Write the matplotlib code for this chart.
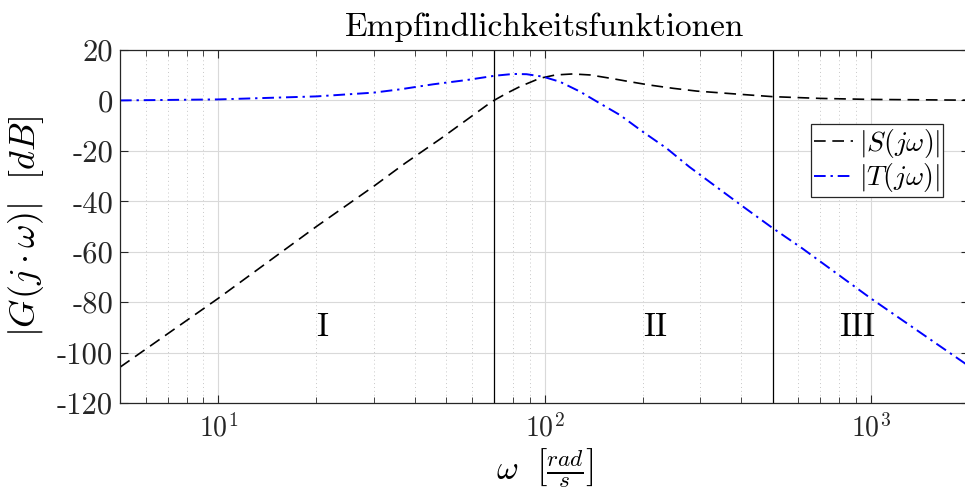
import matplotlib
matplotlib.use("Agg")
import matplotlib.pyplot as plt
from matplotlib.ticker import LogLocator, NullFormatter

plt.rcParams['font.family'] = ['cmr10', 'DejaVu Serif']
plt.rcParams['mathtext.fontset'] = 'cm'
plt.rcParams['axes.unicode_minus'] = False

# values
omega_s = [5, 10, 20, 30, 37.4, 47.9, 60.5, 68.9, 76.5, 84.1, 96.9, 108, 122, 138, 159, 183, 210, 248, 293, 400, 500, 700, 1000, 2000]
s_db = [-105.8, -78.5, -50.0, -34.0, -24.9, -15.3, -5.8, -0.5, 2.8, 5.5, 8.8, 10.1, 10.5, 10.1, 8.8, 7.4, 6.1, 4.8, 3.7, 2.4, 1.5, 0.8, 0.4, 0.1]

omega_t = [5, 10, 20, 30, 36.1, 45.6, 57.8, 70.5, 80.2, 88.1, 99.1, 111.5, 128.5, 148, 170.4, 200, 236.8, 277.6, 400, 500, 617, 1000, 2000]
t_db = [0.0, 0.4, 1.6, 3.1, 4.4, 6.4, 8.1, 9.8, 10.5, 10.4, 9.4, 7.4, 3.5, -1.2, -5.8, -12.4, -19.0, -26.3, -41.5, -50.6, -58.7, -78.5, -105.4]

bounds = [70, 500]
regions = ['I', 'II', 'III']
region_x = [20, 200, 800]
region_y = -90

yticks = [-120, -100, -80, -60, -40, -20, 0, 20]
ytick_labels = ['-120', '-100', '-80', '-60', '-40', '-20', '0', '20']

fig = plt.figure(figsize=(9.65, 4.93), dpi=100)
ax = fig.add_axes([120 / 965, 90 / 493, 849 / 965, 353 / 493])

ax.plot(omega_s, s_db, color='black', linestyle=(0, (7, 4)), linewidth=1.2, label=r'$|S(j\omega)|$')
ax.plot(omega_t, t_db, color='#0000ff', linestyle=(0, (6, 2.5, 1.2, 2.5)), linewidth=1.4, label=r'$|T(j\omega)|$')

for b in bounds:
    ax.axvline(b, color='black', linewidth=0.9)

for txt, xx in zip(regions, region_x):
    ax.text(xx, region_y, txt, fontsize=24, ha='left', va='center')

ax.set_xscale('log')
ax.set_xlim(5, 2000)
ax.set_ylim(-120, 20)
ax.set_yticks(yticks, labels=ytick_labels)
ax.xaxis.set_minor_locator(LogLocator(base=10, subs=range(2, 10), numticks=20))
ax.xaxis.set_minor_formatter(NullFormatter())

ax.grid(True, which='major', color='#d9d9d9', linewidth=0.8)
ax.grid(True, which='minor', axis='x', color='#c8c8c8', linewidth=0.7, linestyle=(0, (1, 3)))
ax.set_axisbelow(True)

ax.tick_params(which='both', direction='in', top=True, right=True, colors='#262626')
ax.tick_params(axis='y', labelsize=22, pad=5)
ax.tick_params(axis='x', labelsize=20, pad=8)
ax.tick_params(which='major', length=6)
ax.tick_params(which='minor', length=4)
for sp in ax.spines.values():
    sp.set_color('#262626')
    sp.set_linewidth(0.9)

ax.set_title('Empfindlichkeitsfunktionen', fontsize=24, pad=10)
ax.set_ylabel(r'$|G(j\cdot\omega)|\ \ [dB]$', fontsize=26, labelpad=8)
ax.set_xlabel(r'$\omega\ \ \left[\frac{rad}{s}\right]$', fontsize=24, labelpad=2)

leg = ax.legend(loc='upper right', bbox_to_anchor=(0.969, 0.79), fontsize=20,
                fancybox=False, framealpha=1, edgecolor='#262626',
                handlelength=1.4, handletextpad=0.2, borderpad=0.1,
                labelspacing=0.05, borderaxespad=0)
leg.get_frame().set_linewidth(0.9)

fig.savefig('out.png', dpi=100)
